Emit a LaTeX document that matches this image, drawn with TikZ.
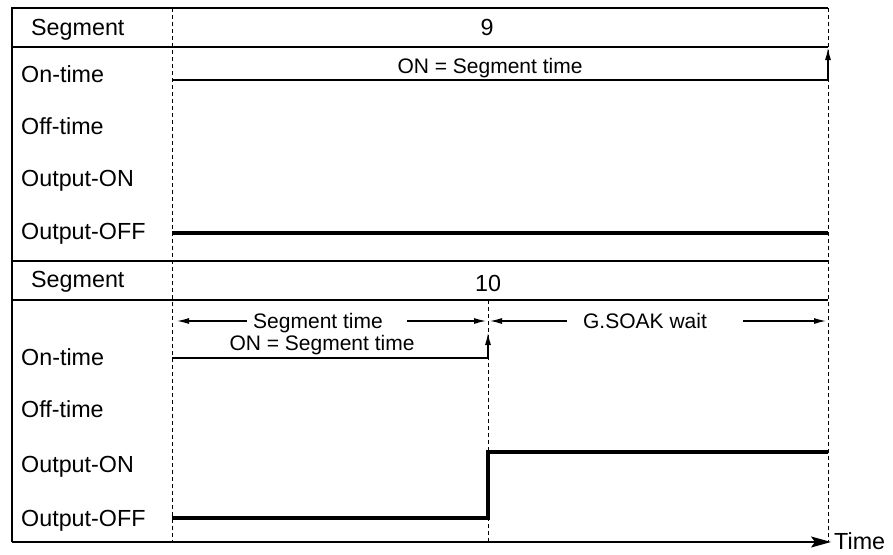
\documentclass[tikz,border=0pt]{standalone}
\usepackage{fontspec}
\setmainfont{Liberation Sans}
\usetikzlibrary{arrows.meta}
\begin{document}
\begin{tikzpicture}[x=1pt,y=-1pt,
  frame/.style={line width=1.8pt},
  sig/.style={line width=3.2pt},
  thinln/.style={line width=1.2pt},
  grid/.style={line width=1pt, dash pattern=on 4pt off 3pt},
  lbl/.style={anchor=base west, inner sep=0pt, font=\fontsize{23.3}{23.3}\selectfont},
  ann/.style={anchor=base, inner sep=0pt, font=\fontsize{21}{21}\selectfont},
  tip/.style={-{Latex[length=12pt,width=6pt]}},
  ]
\useasboundingbox (0,0) rectangle (893,554);
% coordinates
\coordinate (a0) at (12,8);   \coordinate (a1) at (828,8);
\coordinate (b0) at (12,47);  \coordinate (b1) at (828,47);
\coordinate (c0) at (12,261); \coordinate (c1) at (828,261);
\coordinate (d0) at (12,300); \coordinate (d1) at (828,300);
\coordinate (e0) at (12,542); \coordinate (e1) at (831,542);
% frame
\draw[frame] (a1) -- (a0) -- (e0);
\draw[frame] (b0) -- (b1);
\draw[frame] (c0) -- (c1);
\draw[frame] (d0) -- (d1);
\draw[line width=1.5pt, -{Stealth[length=20pt,width=11pt,inset=4pt]}] (e0) -- (e1);
% dashed guides
\coordinate (g1t) at (172,8);   \coordinate (g1b) at (172,542);
\coordinate (g2t) at (488,300); \coordinate (g2b) at (488,542);
\coordinate (g3t) at (828,8);   \coordinate (g3b) at (828,542);
\draw[grid] (g1t) -- (g1b);
\draw[grid] (g2t) -- (g2b);
\draw[grid] (g3t) -- (g3b);
% labels section 1
\node[lbl] (s1) at (31,35) {Segment};
\node[lbl] (on1) at (21,82) {On-time};
\node[lbl] (off1) at (21,134) {Off-time};
\node[lbl] (oon1) at (21,186) {Output-ON};
\node[lbl] (oof1) at (21,239) {Output-OFF};
\node[lbl, anchor=base] (n9) at (487,35) {9};
% labels section 2
\node[lbl] (s2) at (31,287) {Segment};
\node[lbl] (on2) at (21,365) {On-time};
\node[lbl] (off2) at (21,417) {Off-time};
\node[lbl] (oon2) at (21,472) {Output-ON};
\node[lbl] (oof2) at (21,526) {Output-OFF};
\node[lbl, anchor=base] (n10) at (488,291) {10};
\node[lbl] (time) at (834,549) {Time};
% section 1 signals
\coordinate (p1) at (172,80); \coordinate (p2) at (828,80); \coordinate (p3) at (828,48);
\draw[thinln, tip] (p1) -- (p2) -- (p3);
\node[ann] (t1) at (490,73) {ON = Segment time};
\coordinate (q1) at (172,233); \coordinate (q2) at (828,233);
\draw[sig] (q1) -- (q2);
% section 2 annotations
\node[ann] (st) at (318,328) {Segment time};
\node[ann] (on2t) at (322,350) {ON = Segment time};
\node[ann] (gs) at (645,328) {G.SOAK wait};
\coordinate (h1) at (247,321); \coordinate (h2) at (177,321);
\coordinate (h3) at (407,321); \coordinate (h4) at (486,321);
\coordinate (h5) at (567,321); \coordinate (h6) at (490,321);
\coordinate (h7) at (743,321); \coordinate (h8) at (826,321);
\draw[thinln, tip] (h1) -- (h2);
\draw[thinln, tip] (h3) -- (h4);
\draw[thinln, tip] (h5) -- (h6);
\draw[thinln, tip] (h7) -- (h8);
\coordinate (r1) at (172,358); \coordinate (r2) at (488,358); \coordinate (r3) at (488,333);
\draw[thinln, tip] (r1) -- (r2) -- (r3);
% output
\coordinate (u1) at (172,518); \coordinate (u2) at (488,518);
\coordinate (u3) at (488,452); \coordinate (u4) at (828,452);
\draw[sig] (u1) -- (u2) -- (u3) -- (u4);
\end{tikzpicture}
\end{document}
